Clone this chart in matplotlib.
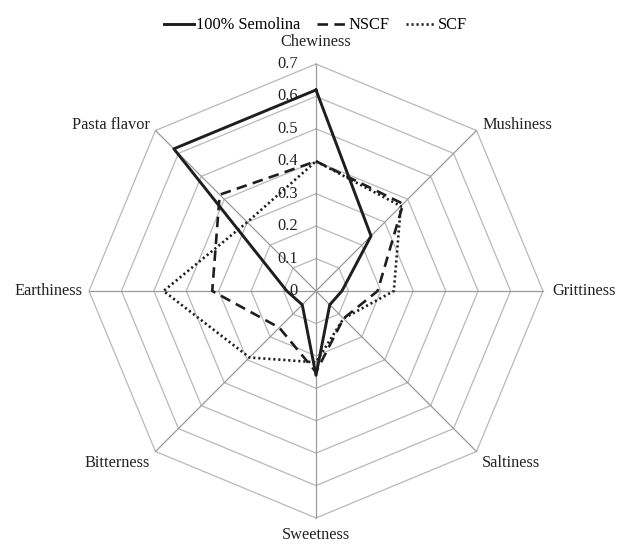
import numpy as np
import matplotlib
matplotlib.use('Agg')
import matplotlib.pyplot as plt

plt.rcParams['font.family'] = ['Liberation Serif', 'DejaVu Serif']

# sensory attributes, clockwise from the top
categories = ['Chewiness', 'Mushiness', 'Grittiness', 'Saltiness',
              'Sweetness', 'Bitterness', 'Earthiness', 'Pasta flavor']
semolina = [0.62, 0.24, 0.08, 0.06, 0.26, 0.06, 0.09, 0.62]
nscf = [0.40, 0.38, 0.19, 0.12, 0.25, 0.16, 0.32, 0.42]
scf = [0.40, 0.37, 0.24, 0.12, 0.22, 0.29, 0.47, 0.30]
rings = [0.1, 0.2, 0.3, 0.4, 0.5, 0.6, 0.7]
tick_labels = ['0', '0.1', '0.2', '0.3', '0.4', '0.5', '0.6', '0.7']

n = len(categories)
ang = np.arange(n) * 2 * np.pi / n
ang_c = np.append(ang, ang[0])

def closed(v):
    return np.append(v, v[0])

fig = plt.figure(figsize=(6.19, 5.44), dpi=100)
ax = fig.add_axes([0.1438, 0.0478, 0.7334, 0.8346], projection='polar')
ax.set_theta_offset(np.pi / 2)
ax.set_theta_direction(-1)
ax.set_ylim(0, 0.7)
ax.grid(False)
ax.set_xticks([])
ax.set_yticks([])
ax.spines['polar'].set_visible(False)
ax.patch.set_visible(False)

grid_col = '#b8b8b8'
# octagon rings + spokes
for r in rings:
    ax.plot(ang_c, [r] * (n + 1), color=grid_col, lw=0.9, zorder=1, clip_on=False)
for a in ang:
    ax.plot([a, a], [0, 0.7], color='#9a9a9a', lw=0.9, zorder=1, clip_on=False)

# radial tick labels
for r, t in zip([0] + rings, tick_labels):
    ax.annotate(t, xy=(0, r), xytext=(-13, 0), textcoords='offset points',
                ha='right', va='center', fontsize=11.8, color='#222222')

# category labels
offsets = [(0, 10, 'center', 'bottom'), (4, 4, 'left', 'center'),
           (7, 0, 'left', 'center'), (4, -8, 'left', 'center'),
           (0, -18.3, 'center', 'bottom'), (-4, -8, 'right', 'center'),
           (-5, 0, 'right', 'center'), (-4, 4, 'right', 'center')]
for a, name, (dx, dy, ha, va) in zip(ang, categories, offsets):
    ax.annotate(name, xy=(a, 0.7), xytext=(dx, dy), textcoords='offset points',
                ha=ha, va=va, fontsize=11.8, color='#222222', annotation_clip=False)

ax.plot(ang_c, closed(semolina), color='#1e1e1e', lw=2.1, label='100% Semolina',
        zorder=4, clip_on=False)
ax.plot(ang_c, closed(nscf), color='#1e1e1e', lw=1.9, ls=(0, (4, 2.4)), label='NSCF',
        zorder=3, clip_on=False)
ax.plot(ang_c, closed(scf), color='#1e1e1e', lw=1.9, ls=(0, (0.8, 1.1)), label='SCF',
        zorder=3, clip_on=False)

fig.legend(loc='upper center', bbox_to_anchor=(0.51, 0.995), ncol=3, frameon=False,
           fontsize=11.8, handlelength=1.8, handletextpad=0.15, columnspacing=1.0)

fig.savefig('out.png', dpi=100)
